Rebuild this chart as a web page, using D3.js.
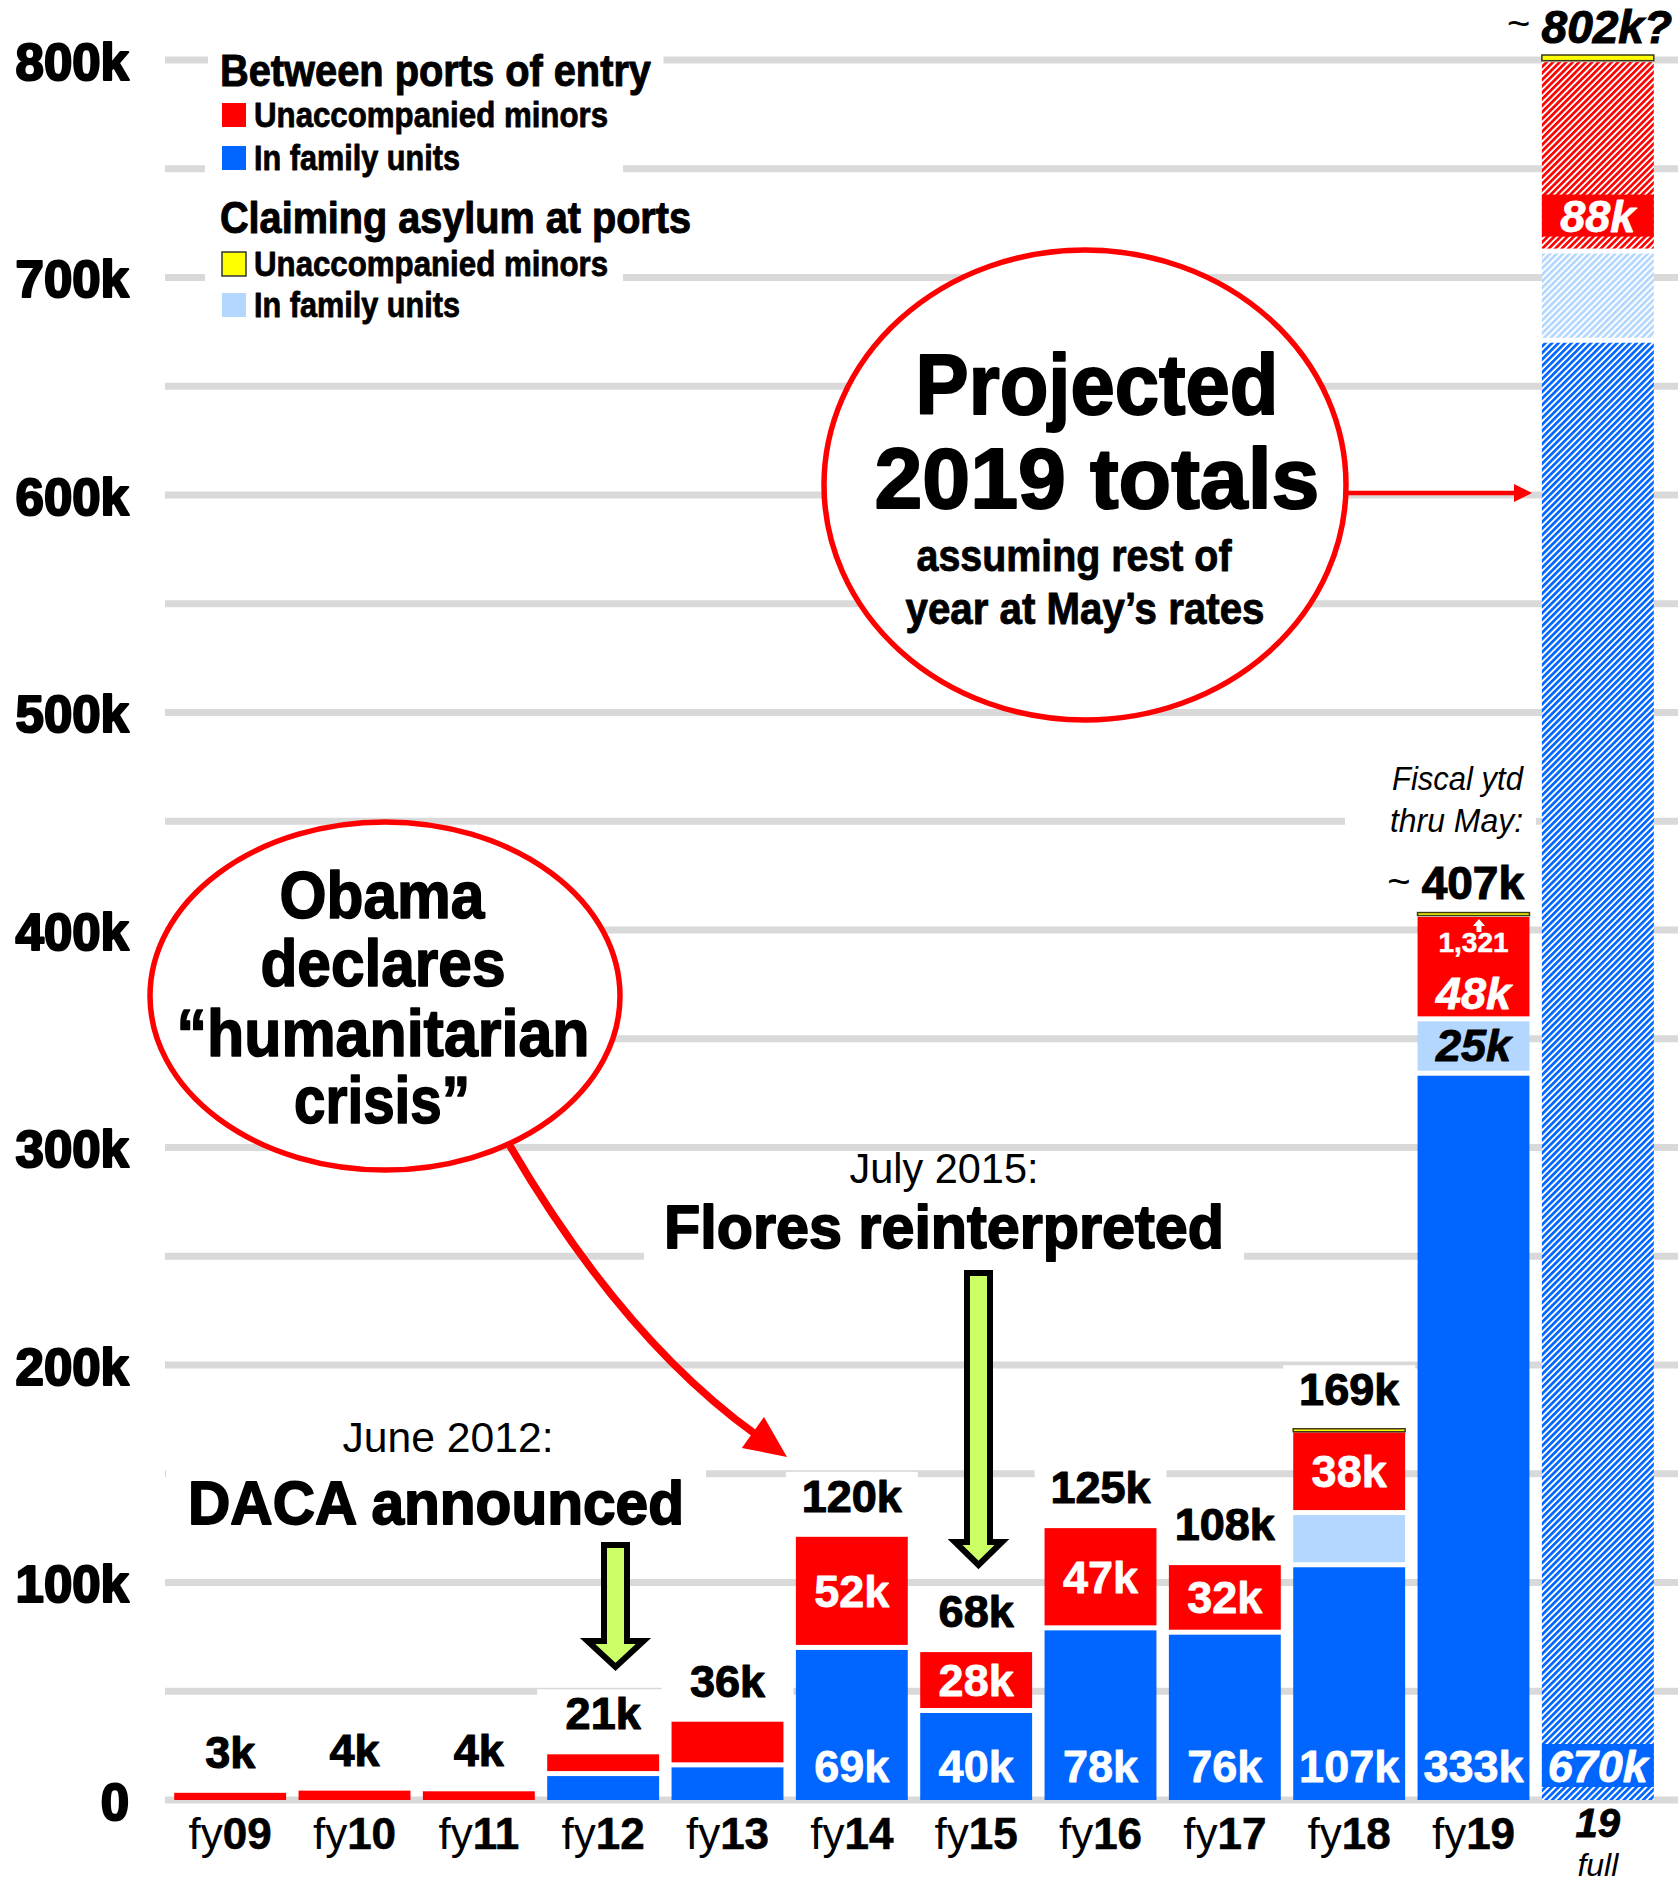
<!DOCTYPE html>
<html>
<head>
<meta charset="utf-8">
<script src="https://cdn.jsdelivr.net/npm/d3@7"></script>
<style>
  body { margin: 0; background: #fff; }
  svg text { font-family: "Liberation Sans", Arial, sans-serif; }
</style>
</head>
<body>
<div id="chart"></div>
<script>
// fiscal years, last bar = projected full fy19
const years = ["fy09", "fy10", "fy11", "fy12", "fy13", "fy14", "fy15", "fy16", "fy17", "fy18", "fy19", "19full"];
// thousands of people
const bpFamily   = [0, 0, 0, 11, 15, 69, 40, 78, 76, 107, 333, 670];
const portFamily = [0, 0, 0, 0, 0, 0, 0, 0, 0, 24, 25, 41];
const bpMinors   = [3.3, 4.3, 4.0, 10, 21, 52, 28, 47, 32, 38, 48, 88];
const portMinors = [0, 0, 0, 0, 0, 0, 0, 0, 0, 1, 1.321, 2.6];

const totalLabels  = ["3k", "4k", "4k", "21k", "36k", "120k", "68k", "125k", "108k", "169k", "407k", "802k?"];
const minorLabels  = ["", "", "", "", "", "52k", "28k", "47k", "32k", "38k", "48k", "88k"];
const familyLabels = ["", "", "", "", "", "69k", "40k", "78k", "76k", "107k", "333k", "670k"];
const portFamilyLabels = ["", "", "", "", "", "", "", "", "", "", "25k", ""];
const yTicks = [0, 100, 200, 300, 400, 500, 600, 700, 800];

const W = 1678, H = 1883;
const colors = {bpFamily: "#0066ff", portFamily: "#b3d7ff", bpMinors: "#ff0000", portMinors: "#ffff00"};
const keys = ["bpFamily", "portFamily", "bpMinors", "portMinors"];

const svg = d3.select("#chart").append("svg")
    .attr("width", W)
    .attr("height", H);

const x = d3.scaleBand().domain(years).range([168, 1660]).paddingInner(0.1).paddingOuter(0.05);
const y = d3.scaleLinear().domain([0, 800]).range([1800, 60]);

// hatch patterns for the projection bar
const defs = svg.append("defs");
keys.forEach(k => {
  const p = defs.append("pattern")
      .attr("id", "hatch-" + k)
      .attr("patternUnits", "userSpaceOnUse")
      .attr("width", 4.6).attr("height", 4.6)
      .attr("patternTransform", "rotate(45)");
  p.append("rect").attr("width", 4.6).attr("height", 4.6).attr("fill", "#fff");
  p.append("rect").attr("width", 2.7).attr("height", 4.6).attr("fill", colors[k]);
});

const gridG = svg.append("g");
const bgG = svg.append("g");
const barG = svg.append("g");
const annoG = svg.append("g");
const textG = svg.append("g");

// gridlines every 50k
gridG.selectAll("line")
    .data(d3.range(0, 801, 50))
  .join("line")
    .attr("x1", 165).attr("x2", W)
    .attr("y1", d => y(d)).attr("y2", d => y(d))
    .attr("stroke", "#d9d9d9")
    .attr("stroke-width", 7);

// y axis labels
const yAxis = d3.axisLeft(y).tickValues(yTicks).tickSize(0).tickPadding(0)
    .tickFormat(d => d ? d + "k" : "0");
const yAxisG = svg.append("g").attr("transform", "translate(129,0)").call(yAxis);
yAxisG.select(".domain").remove();
yAxisG.selectAll("text")
    .attr("dy", null)
    .attr("y", 19)
    .attr("font-size", 51)
    .attr("font-weight", "bold")
    .attr("font-family", "Liberation Sans, Arial, sans-serif")
    .attr("fill", "#000")
    .attr("stroke", "#000")
    .attr("stroke-width", 2.2)
    .attr("stroke-linejoin", "round");

// x axis labels
const xAxis = d3.axisBottom(x).tickSize(0).tickPadding(0);
const xAxisG = svg.append("g").attr("transform", "translate(0,1800)").call(xAxis);
xAxisG.select(".domain").remove();
xAxisG.selectAll("text")
    .attr("dy", null).attr("y", 49)
    .attr("font-size", 44)
    .attr("font-family", "Liberation Sans, Arial, sans-serif")
    .attr("fill", "#000")
    .each(function(d) {
      const t = d3.select(this).text("");
      if (d === "19full") {
        t.attr("y", 37).attr("font-size", 40);
        t.append("tspan").attr("font-weight", "bold").attr("font-style", "italic")
            .attr("stroke", "#000").attr("stroke-width", 0.8).text("19");
      } else {
        t.append("tspan").text("fy");
        t.append("tspan").attr("font-weight", "bold").attr("stroke", "#000").attr("stroke-width", 0.6).text(d.slice(2));
      }
    });
// second line under the projection bar
xAxisG.append("text")
    .attr("x", x("19full") + x.bandwidth() / 2)
    .attr("y", 76)
    .attr("text-anchor", "middle")
    .attr("font-size", 32)
    .attr("font-style", "italic")
    .attr("fill", "#000")
    .text("full");

// helpers
function addText(g, str, x0, y0, o) {
  const el = g.append("text")
      .attr("x", x0).attr("y", y0)
      .attr("text-anchor", o.anchor || "middle")
      .attr("font-size", o.size)
      .attr("font-weight", o.weight || "bold")
      .attr("font-style", o.italic ? "italic" : null)
      .attr("fill", o.fill || "#000")
      .text(str);
  if (o.len) el.attr("textLength", o.len).attr("lengthAdjust", "spacingAndGlyphs");
  if (o.stroke) el.attr("stroke", o.fill || "#000").attr("stroke-width", o.stroke).attr("stroke-linejoin", "round");
  return el;
}
function bgBox(el, px, py) {
  const b = el.node().getBBox();
  bgG.append("rect")
      .attr("x", b.x - px).attr("y", b.y - py)
      .attr("width", b.width + 2 * px).attr("height", b.height + 2 * py)
      .attr("fill", "#fff");
}

// stacked bars
const rows = years.map((yr, i) => ({
  year: yr, i: i,
  bpFamily: bpFamily[i], portFamily: portFamily[i], bpMinors: bpMinors[i], portMinors: portMinors[i]
}));
const series = d3.stack().keys(keys)(rows);
const GAP = 5;

series.forEach(s => {
  const key = s.key;
  barG.selectAll(".seg-" + key)
      .data(s.filter(d => d[1] - d[0] > 0))
    .join("rect")
      .attr("class", "seg-" + key)
      .attr("x", d => x(d.data.year))
      .attr("width", x.bandwidth())
      .attr("y", d => key === "portMinors" ? y(d[1]) - 1.5 : y(d[1]))
      .attr("height", d => {
        if (key === "portMinors") return Math.max(3, y(d[0]) - y(d[1]));
        return Math.max(0, y(d[0]) - y(d[1]) - (d[0] > 0 ? GAP : 0));
      })
      .attr("fill", d => (d.data.year === "19full" && key !== "portMinors") ? "url(#hatch-" + key + ")" : colors[key])
      .attr("stroke", key === "portMinors" ? "#3a3a1a" : null)
      .attr("stroke-width", key === "portMinors" ? 1.5 : null);
});

const totals = rows.map(r => keys.reduce((a, k) => a + r[k], 0));
const cx = yr => x(yr) + x.bandwidth() / 2;

// total labels above bars
years.forEach((yr, i) => {
  if (i >= 10) return;
  const base = y(totals[i]) - 25;
  bgG.append("rect")
      .attr("x", x(yr) - 10).attr("y", base - 40)
      .attr("width", x.bandwidth() + 20).attr("height", 48)
      .attr("fill", "#fff");
  addText(textG, totalLabels[i], cx(yr), base, {size: 45, stroke: 1.1});
});

// fy19 year to date
const fy19 = years[10], full = years[11];
addText(textG, "Fiscal ytd", 1523, 790, {size: 33, weight: "normal", italic: true, anchor: "end", len: 131});
addText(textG, "thru May:", 1523, 832, {size: 33, weight: "normal", italic: true, anchor: "end", len: 133});
bgG.append("rect").attr("x", 1345).attr("y", 755).attr("width", 191).attr("height", 90).attr("fill", "#fff");
const t407 = textG.append("text").attr("x", 1524).attr("y", 899).attr("text-anchor", "end");
t407.append("tspan").attr("font-size", 40).attr("dy", -4).text("~ ");
t407.append("tspan").attr("font-size", 46).attr("font-weight", "bold").attr("dy", 4)
    .attr("stroke", "#000").attr("stroke-width", 1.1).text(totalLabels[10]);

const t802 = textG.append("text").attr("x", 1672).attr("y", 43).attr("text-anchor", "end");
t802.append("tspan").attr("font-size", 40).attr("dy", -6).text("~ ");
t802.append("tspan").attr("font-size", 46).attr("font-weight", "bold").attr("font-style", "italic").attr("dy", 6)
    .attr("stroke", "#000").attr("stroke-width", 1.1).text(totalLabels[11]);

// labels inside segments
series.forEach(s => {
  s.forEach(d => {
    const yr = d.data.year, i = d.data.i;
    const top = y(d[1]), bot = y(d[0]) - (d[0] > 0 ? GAP : 0);
    const ital = i >= 10 && !(s.key === "bpFamily" && i === 10);
    if (s.key === "bpFamily" && familyLabels[i]) {
      if (yr === "19full") {
        barG.append("rect").attr("x", x(yr)).attr("y", 1744).attr("width", x.bandwidth()).attr("height", 43)
            .attr("fill", colors.bpFamily);
      }
      addText(textG, familyLabels[i], cx(yr), y(0) - 18, {size: 45, fill: "#fff", italic: ital, stroke: 0.8});
    }
    if (s.key === "bpMinors" && minorLabels[i]) {
      let base = (top + bot) / 2 + 16;
      if (yr === fy19) base = bot - 7;
      if (yr === "19full") {
        base = bot - 17;
        barG.append("rect").attr("x", x(yr)).attr("y", base - 37).attr("width", x.bandwidth()).attr("height", 42)
            .attr("fill", colors.bpMinors);
      }
      addText(textG, minorLabels[i], cx(yr), base, {size: 45, fill: "#fff", italic: ital, stroke: 0.8});
    }
    if (s.key === "portFamily" && portFamilyLabels[i]) {
      addText(textG, portFamilyLabels[i], cx(yr), (top + bot) / 2 + 15, {size: 45, fill: "#000", italic: true, stroke: 1});
    }
  });
});

// tiny asylum minors value for fy19
addText(textG, d3.format(",")(Math.round(portMinors[10] * 1000)), cx(fy19), 952, {size: 28, fill: "#fff", stroke: 0.5});
textG.append("path")
    .attr("d", "M1479,919 L1485,926 L1481.5,926 L1481.5,932 L1476.5,932 L1476.5,926 L1473,926 Z")
    .attr("fill", "#fff");

// legend
const legendData = [
  {head: "Between ports of entry", hy: 86, hlen: 431, items: [
    {label: "Unaccompanied minors", key: "bpMinors", y: 103, len: 354},
    {label: "In family units", key: "bpFamily", y: 146, len: 206}]},
  {head: "Claiming asylum at ports", hy: 233, hlen: 471, items: [
    {label: "Unaccompanied minors", key: "portMinors", y: 252, len: 354},
    {label: "In family units", key: "portFamily", y: 293, len: 206}]}
];
legendData.forEach(g => {
  const h = addText(textG, g.head, 220, g.hy, {size: 44, anchor: "start", len: g.hlen, stroke: 1});
  bgBox(h, 12, 0);
  bgG.append("rect").attr("x", 205).attr("y", g.items[0].y - 6)
      .attr("width", 418).attr("height", g.items[1].y - g.items[0].y + 38).attr("fill", "#fff");
  g.items.forEach(it => {
    textG.append("rect").attr("x", 222).attr("y", it.y).attr("width", 24).attr("height", 24)
        .attr("fill", colors[it.key])
        .attr("stroke", it.key === "portMinors" ? "#333" : null)
        .attr("stroke-width", it.key === "portMinors" ? 1.5 : null);
    addText(textG, it.label, 254, it.y + 24, {size: 35, anchor: "start", len: it.len, stroke: 0.8});
  });
});

// "Projected 2019 totals" bubble
annoG.append("ellipse").attr("cx", 1085).attr("cy", 485).attr("rx", 261).attr("ry", 235)
    .attr("fill", "#fff").attr("stroke", "#ff0000").attr("stroke-width", 5.5);
addText(textG, "Projected", 1097, 414, {size: 86, len: 363, stroke: 2});
addText(textG, "2019 totals", 1097, 508, {size: 86, len: 445, stroke: 2});
addText(textG, "assuming rest of", 1074, 571, {size: 44, len: 315, stroke: 0.9});
addText(textG, "year at May\u2019s rates", 1085, 624, {size: 44, len: 359, stroke: 0.9});
annoG.append("line").attr("x1", 1348).attr("x2", 1516).attr("y1", 493).attr("y2", 493)
    .attr("stroke", "#ff0000").attr("stroke-width", 4.5);
annoG.append("path").attr("d", "M1532,493 L1514,484 L1514,502 Z").attr("fill", "#ff0000");

// "Obama declares humanitarian crisis" bubble
annoG.append("ellipse").attr("cx", 385).attr("cy", 996).attr("rx", 235).attr("ry", 174)
    .attr("fill", "#fff").attr("stroke", "#ff0000").attr("stroke-width", 5.5);
addText(textG, "Obama", 382, 918, {size: 66, len: 205, stroke: 1.6});
addText(textG, "declares", 383, 986, {size: 66, len: 245, stroke: 1.6});
addText(textG, "\u201chumanitarian", 383, 1056, {size: 66, len: 413, stroke: 1.6});
addText(textG, "crisis\u201d", 382, 1123, {size: 66, len: 176, stroke: 1.6});

// curved arrow to fy14
const p0 = [510, 1146], c0 = [623, 1339], tip = [787, 1457];
const ang = Math.atan2(tip[1] - c0[1], tip[0] - c0[0]);
const headLen = 42, headHW = 19;
const shaftEnd = [tip[0] - Math.cos(ang) * (headLen - 4), tip[1] - Math.sin(ang) * (headLen - 4)];
const curve = d3.path();
curve.moveTo(p0[0], p0[1]);
curve.quadraticCurveTo(c0[0], c0[1], shaftEnd[0], shaftEnd[1]);
annoG.append("path").attr("d", curve.toString())
    .attr("fill", "none").attr("stroke", "#ff0000").attr("stroke-width", 7.5);
const bx = tip[0] - Math.cos(ang) * headLen, by = tip[1] - Math.sin(ang) * headLen;
annoG.append("path")
    .attr("d", `M${tip[0]},${tip[1]} L${bx + Math.sin(ang) * headHW},${by - Math.cos(ang) * headHW} L${bx - Math.sin(ang) * headHW},${by + Math.cos(ang) * headHW} Z`)
    .attr("fill", "#ff0000");

// policy event callouts with green arrows
function blockArrow(cxA, top, baseY, tipY, shaftHW, hHW) {
  const pts = [[cxA - shaftHW, top], [cxA + shaftHW, top], [cxA + shaftHW, baseY], [cxA + hHW, baseY],
               [cxA, tipY], [cxA - hHW, baseY], [cxA - shaftHW, baseY]];
  annoG.append("path").attr("d", d3.line()(pts) + "Z")
      .attr("fill", "#ccff66").attr("stroke", "#000").attr("stroke-width", 6)
      .attr("stroke-linejoin", "miter");
}
addText(textG, "June 2012:", 448, 1452, {size: 42, weight: "normal", len: 211});
const daca = addText(textG, "DACA announced", 436, 1524, {size: 62, len: 496, stroke: 1.8});
bgBox(daca, 22, 4);
blockArrow(615.5, 1545, 1641, 1667, 11.5, 28);

addText(textG, "July 2015:", 944, 1183, {size: 42, weight: "normal", len: 189});
const flores = addText(textG, "Flores reinterpreted", 944, 1248, {size: 62, len: 560, stroke: 1.8});
bgBox(flores, 20, 2);
blockArrow(978.5, 1273, 1542, 1565, 11.5, 23.5);
</script>
</body>
</html>
